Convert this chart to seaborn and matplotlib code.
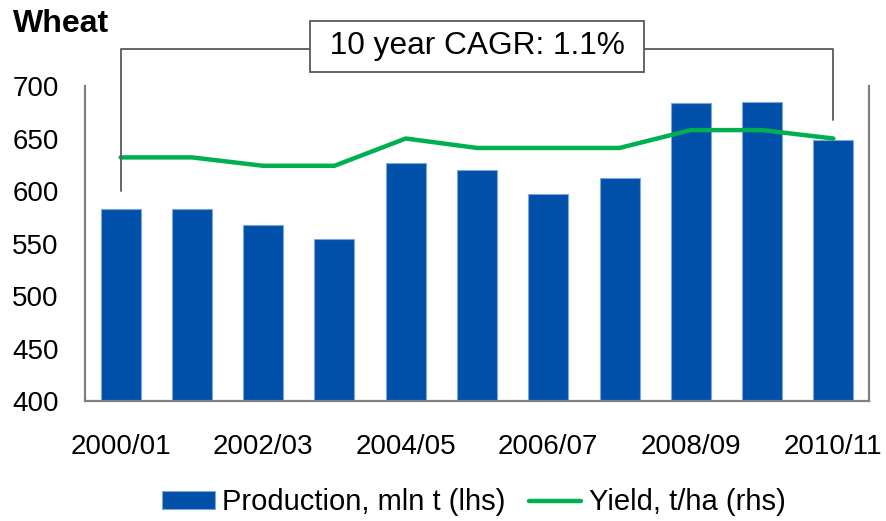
import matplotlib
matplotlib.use("Agg")
import matplotlib.pyplot as plt
import seaborn as sns
import numpy as np
import pandas as pd

years = ["2000/01", "2001/02", "2002/03", "2003/04", "2004/05", "2005/06",
         "2006/07", "2007/08", "2008/09", "2009/10", "2010/11"]
production = [583, 583, 568, 554, 627, 620, 597, 612, 684, 685, 649]
yield_line = [632, 632, 624, 624, 650, 641, 641, 641, 658, 658, 650]
yticks = [400, 450, 500, 550, 600, 650, 700]
xtick_labels = ["2000/01", "2002/03", "2004/05", "2006/07", "2008/09", "2010/11"]
cagr_text = " 10 year CAGR: 1.1% "
bracket_y = 735
bracket_left_bottom = 600
bracket_right_bottom = 668

sns.set_theme(style="white")
plt.rcParams['font.family'] = ['Liberation Sans', 'DejaVu Sans']
plt.rcParams['text.color'] = 'black'

BLUE = "#0050AA"
GREEN = "#00B050"
GRAY = "#808080"

df = pd.DataFrame({"year": years, "production": production,
                   "pos": np.arange(len(years)), "yield": yield_line})

fig = plt.figure(figsize=(8.86, 5.21), dpi=100)
ax = fig.add_axes([85/886, 1-401/521, (869-85)/886, (401-86)/521])

sns.barplot(data=df, x="year", y="production", color=BLUE, width=0.56,
            edgecolor="#7fa6d9", linewidth=0.8, saturation=1, ax=ax,
            label="Production, mln t (lhs)")
sns.lineplot(data=df, x="pos", y="yield", color=GREEN, linewidth=3.2, ax=ax,
             label="Yield, t/ha (rhs)", legend=False)

ax.set_xlim(-0.5, len(years) - 0.5)
ax.set_ylim(400, 700)
ax.set_yticks(yticks)
ax.set_yticklabels([str(v) for v in yticks])
idx = [years.index(l) for l in xtick_labels]
ax.set_xticks(idx)
ax.set_xticklabels(xtick_labels)
ax.tick_params(axis="both", length=0, labelsize=20, colors="black")
ax.tick_params(axis="y", pad=19)
ax.tick_params(axis="x", pad=24)
ax.set_xlabel("")
ax.set_ylabel("")
for s in ["left", "right", "bottom"]:
    ax.spines[s].set_color(GRAY)
    ax.spines[s].set_linewidth(1.6)
ax.spines["top"].set_visible(False)

# bracket
BR = "#595959"
ax.plot([0, 0, len(years) - 1, len(years) - 1],
        [bracket_left_bottom, bracket_y, bracket_y, bracket_right_bottom],
        color=BR, lw=1.3, clip_on=False, zorder=5)
ax.text((len(years) - 1) / 2, bracket_y + 3, cagr_text, fontsize=22.8, ha="center", va="center",
        zorder=6, clip_on=False, color="black",
        bbox=dict(boxstyle="square,pad=0.33", facecolor="white", edgecolor=BR, linewidth=1.3))

fig.text(13/886, 1-9/521, "Wheat", fontsize=23, fontweight="bold", ha="left", va="top",
         color="black")

h, l = ax.get_legend_handles_labels()
order = [l.index("Production, mln t (lhs)"), l.index("Yield, t/ha (rhs)")]
handles = [h[i] for i in order]
labels = [l[i] for i in order]
if ax.get_legend() is not None:
    ax.get_legend().remove()
fig.legend(handles, labels, loc="center", bbox_to_anchor=(0.535, 0.036), ncol=2,
           frameon=False, fontsize=21, handlelength=1.8, handleheight=0.55,
           handletextpad=0.25, columnspacing=0.8, borderpad=0)

fig.savefig("out.png", dpi=100)
